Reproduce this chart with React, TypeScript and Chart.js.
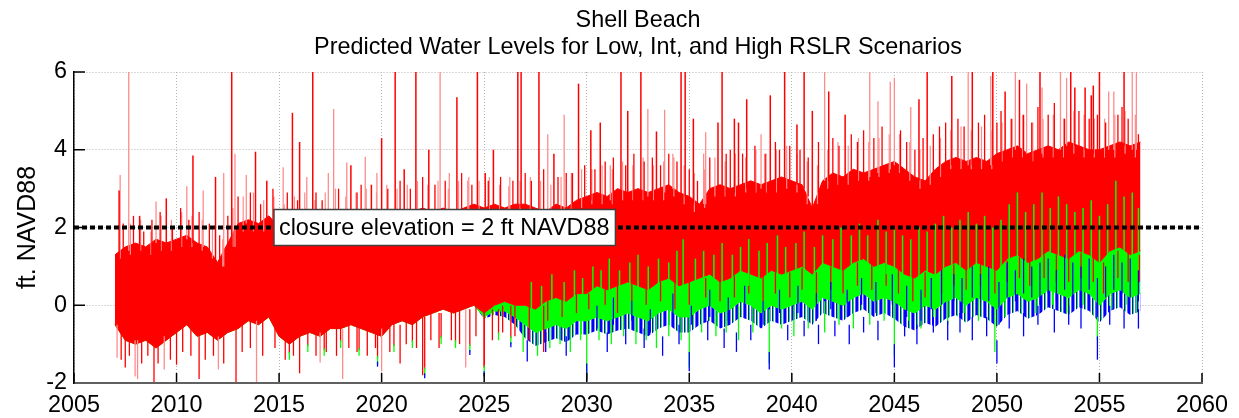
import React, { useEffect, useRef } from 'react';
import { Chart, registerables } from 'chart.js';

Chart.register(...registerables);

// ---------- data ----------
const TITLE_LINE_1 = 'Shell Beach';
const TITLE_LINE_2 = 'Predicted Water Levels for Low, Int, and High RSLR Scenarios';
const Y_LABEL = 'ft. NAVD88';
const CLOSURE_LABEL = 'closure elevation = 2 ft NAVD88';
const CLOSURE_LEVEL = 2;
const CLOSURE_LABEL_YEAR = 2014.75;

const X_TICKS = [2005, 2010, 2015, 2020, 2025, 2030, 2035, 2040, 2045, 2050, 2055, 2060];
const Y_TICKS = [-2, 0, 2, 4, 6];

// envelopes sampled every half year from 2007.0 to 2057.0
const START_YEAR = 2007;
const STEP = 0.5;

// High RSLR (red): top and bottom of the solid mass
const RED_HIGH = [
  1.3, 1.5, 1.6, 1.5, 1.7, 1.6, 1.7, 1.8, 1.6, 1.5,
  1.1, 1.6, 2.1, 2.2, 2.1, 2.3, 2.0, 2.1, 2.2, 2.1,
  2.2, 2.3, 2.1, 2.2, 2.3, 2.2, 2.3, 2.4, 2.3, 2.4,
  2.5, 2.4, 2.5, 2.4, 2.5, 2.6, 2.5, 2.6, 2.5, 2.6,
  2.6, 2.5, 2.4, 2.6, 2.5, 2.7, 2.8, 2.9, 2.8, 3.0,
  2.9, 3.0, 2.9, 3.0, 3.1, 2.9, 2.8, 2.6, 3.0, 3.1,
  3.0, 3.1, 3.2, 3.1, 3.2, 3.3, 3.2, 3.1, 2.5, 3.2,
  3.4, 3.3, 3.5, 3.4, 3.5, 3.6, 3.7, 3.5, 3.3, 3.2,
  3.5, 3.7, 3.8, 3.7, 3.8, 3.7, 3.9, 4.0, 4.1, 3.9,
  4.0, 4.1, 4.0, 4.2, 4.1, 4.0, 4.0, 4.1, 4.2, 4.1,
  4.2,
];

const RED_LOW = [
  -0.5, -0.9, -1.0, -0.9, -1.1, -0.9, -0.7, -0.5, -0.8, -0.7,
  -0.9, -0.7, -0.6, -0.4, -0.5, -0.3, -0.8, -1.0, -0.8, -0.7,
  -0.8, -0.6, -0.6, -0.5, -0.6, -0.7, -0.8, -0.5, -0.4, -0.5,
  -0.3, -0.2, -0.1, -0.2, -0.1, 0.0, -0.2, 0.0, 0.1, 0.0,
  0.0, -0.1, 0.1, 0.2, 0.1, 0.3, 0.3, 0.5, 0.4, 0.5,
  0.6, 0.5, 0.4, 0.6, 0.7, 0.5, 0.6, 0.7, 0.8, 0.6,
  0.7, 0.9, 0.8, 0.7, 0.9, 0.8, 0.9, 1.0, 0.8, 1.1,
  1.0, 0.9, 1.1, 1.2, 1.0, 1.1, 1.0, 0.8, 0.7, 0.9,
  0.8, 1.0, 1.1, 0.9, 1.1, 1.0, 0.9, 1.2, 1.3, 1.1,
  1.2, 1.4, 1.3, 1.2, 1.4, 1.3, 1.1, 1.4, 1.5, 1.3,
  1.4,
];

// Int RSLR (green): lower edge of the green zone under the red mass
const GREEN_LOW = [
  -0.5, -0.9, -1.0, -0.9, -1.1, -0.9, -0.7, -0.5, -0.8, -0.7,
  -0.9, -0.7, -0.6, -0.4, -0.5, -0.3, -0.8, -1.0, -0.8, -0.7,
  -0.8, -0.6, -0.6, -0.5, -0.6, -0.7, -0.8, -0.5, -0.4, -0.5,
  -0.3, -0.2, -0.1, -0.2, -0.1, 0.0, -0.3, -0.15, -0.15, -0.3,
  -0.5, -0.7, -0.6, -0.5, -0.6, -0.4, -0.4, -0.3, -0.4, -0.3,
  -0.2, -0.3, -0.4, -0.2, -0.1, -0.3, -0.3, -0.1, 0.0, -0.2,
  -0.1, 0.1, 0.0, -0.2, 0.0, -0.1, 0.0, 0.1, -0.1, 0.2,
  0.1, 0.0, 0.2, 0.3, 0.1, 0.2, 0.1, -0.1, -0.2, 0.0,
  -0.1, 0.1, 0.2, 0.0, 0.2, 0.1, -0.1, 0.2, 0.3, 0.1,
  0.2, 0.4, 0.3, 0.2, 0.4, 0.3, 0.0, 0.3, 0.4, 0.2,
  0.3,
];

// Low RSLR (blue): lower edge of the blue zone under the green
const BLUE_LOW = [
  -0.5, -0.9, -1.0, -0.9, -1.1, -0.9, -0.7, -0.5, -0.8, -0.7,
  -0.9, -0.7, -0.6, -0.4, -0.5, -0.3, -0.8, -1.0, -0.8, -0.7,
  -0.8, -0.6, -0.6, -0.5, -0.6, -0.7, -0.8, -0.5, -0.4, -0.5,
  -0.3, -0.2, -0.1, -0.2, -0.1, 0.0, -0.35, -0.25, -0.3, -0.5,
  -0.85, -1.05, -0.95, -0.85, -0.95, -0.75, -0.75, -0.65, -0.75, -0.65,
  -0.6, -0.7, -0.8, -0.6, -0.5, -0.7, -0.7, -0.5, -0.4, -0.6,
  -0.5, -0.3, -0.4, -0.6, -0.4, -0.5, -0.4, -0.3, -0.5, -0.2,
  -0.3, -0.4, -0.2, -0.1, -0.3, -0.2, -0.35, -0.55, -0.65, -0.45,
  -0.55, -0.35, -0.25, -0.45, -0.25, -0.35, -0.55, -0.25, -0.15, -0.35,
  -0.25, -0.05, -0.15, -0.25, -0.05, -0.15, -0.45, -0.15, -0.05, -0.25,
  -0.15,
];

// individual spikes: [year, low, high]
const RED_SPIKES_UP = [
  [2007.2, 1.2, 2.95], [2008.2, 1.4, 2.3], [2009.5, 1.5, 2.75], [2010.8, 1.6, 3.85],
  [2011.9, 1.0, 3.3], [2012.69, 1.4, 6.0], [2013.85, 2.0, 3.95], [2014.4, 2.1, 3.2],
  [2015.65, 1.9, 4.95], [2016.0, 2.0, 4.2], [2016.64, 2.0, 6.0], [2018.5, 2.0, 3.6],
  [2019.5, 2.1, 3.1], [2020.0, 2.1, 4.3], [2020.66, 2.2, 6.0], [2021.1, 2.1, 3.5],
  [2021.67, 2.2, 6.0], [2022.3, 2.3, 4.0], [2023.67, 2.3, 5.35], [2024.67, 2.4, 6.0],
  [2025.05, 2.4, 3.4], [2025.45, 2.5, 4.0], [2026.64, 2.4, 6.0], [2026.8, 2.5, 6.0],
  [2027.67, 2.4, 6.0], [2028.4, 2.4, 3.9], [2029.3, 2.4, 3.4], [2029.6, 2.5, 5.7],
  [2030.2, 2.7, 4.5], [2030.66, 2.8, 4.7], [2031.67, 2.9, 6.0], [2032.0, 2.8, 5.0],
  [2032.64, 2.9, 6.0], [2033.4, 2.8, 4.47], [2034.6, 2.8, 6.0], [2034.8, 2.8, 6.0],
  [2035.2, 2.6, 4.8], [2036.4, 3.0, 4.7], [2036.6, 3.0, 6.0], [2037.2, 2.9, 4.8],
  [2037.4, 3.0, 4.7], [2037.8, 3.0, 5.3], [2038.95, 3.1, 5.4], [2039.65, 3.2, 6.0],
  [2040.25, 3.1, 4.65], [2040.6, 3.0, 6.0], [2041.0, 2.4, 5.0], [2041.8, 3.2, 5.5],
  [2042.6, 3.2, 4.9], [2046.2, 3.2, 5.3], [2046.6, 3.1, 6.0], [2047.8, 3.6, 5.9],
  [2048.8, 3.6, 6.0], [2049.8, 3.6, 6.0], [2050.4, 3.9, 5.5], [2051.1, 4.0, 5.8],
  [2052.1, 3.9, 6.0], [2053.6, 4.1, 6.0], [2053.8, 4.1, 5.6], [2054.3, 4.0, 5.6],
  [2054.6, 3.9, 5.4], [2054.7, 3.9, 5.65], [2055.0, 3.9, 6.0], [2056.2, 4.1, 6.0],
];

const PINK_SPIKES_UP = [
  [2007.25, 1.2, 3.35], [2007.67, 1.4, 6.0], [2009.0, 1.6, 2.67], [2010.5, 1.7, 3.06],
  [2011.3, 1.5, 2.95], [2012.3, 1.0, 3.4], [2012.85, 1.5, 3.9], [2013.4, 2.1, 3.35],
  [2015.2, 1.9, 3.55], [2016.35, 2.0, 3.3], [2017.4, 2.1, 3.4], [2017.66, 2.2, 5.05],
  [2018.3, 2.0, 3.67], [2019.2, 2.2, 3.82], [2019.77, 2.1, 3.4], [2022.85, 2.3, 6.0],
  [2023.3, 2.4, 3.4], [2024.2, 2.4, 3.2], [2026.2, 2.4, 3.06], [2028.1, 2.3, 4.4],
  [2028.9, 2.4, 4.9], [2031.15, 2.7, 3.6], [2032.98, 2.8, 5.05], [2033.8, 2.9, 5.03],
  [2034.2, 3.0, 3.9], [2035.7, 2.6, 3.9], [2035.8, 2.6, 4.45], [2038.5, 3.0, 4.4],
  [2041.6, 3.2, 6.0], [2043.8, 3.3, 6.0], [2044.2, 3.4, 5.25], [2044.8, 3.5, 5.75],
  [2045.0, 3.6, 5.85], [2045.8, 3.4, 5.1], [2048.6, 3.6, 6.0], [2049.7, 3.6, 5.9],
  [2050.9, 4.0, 6.0], [2051.45, 3.9, 5.7], [2052.2, 3.9, 5.6], [2053.1, 4.0, 6.0],
  [2053.4, 4.1, 5.85], [2055.45, 4.0, 5.5], [2055.7, 4.0, 5.5], [2056.6, 4.0, 6.0],
  [2056.8, 4.0, 6.0],
];

const PINK_GRASS_UP = [
  [2007.75, 1.3, 2.1], [2008.25, 1.4, 2.2], [2008.75, 1.3, 1.9], [2009.25, 1.4, 2.3],
  [2009.75, 1.4, 2.2], [2010.25, 1.5, 2.4], [2010.75, 1.5, 2.3], [2011.25, 1.4, 2.2],
  [2011.75, 1.2, 2.0], [2012.25, 1.0, 1.7], [2012.75, 1.5, 2.5], [2013.25, 1.9, 2.8],
  [2013.75, 1.9, 2.9], [2014.25, 1.9, 2.7], [2014.75, 1.9, 2.8], [2015.25, 1.8, 2.6],
  [2015.75, 1.9, 2.8], [2016.25, 1.9, 2.9], [2016.75, 1.9, 2.7], [2017.25, 2.0, 2.9],
  [2017.75, 2.0, 3.0], [2018.25, 1.9, 2.8], [2018.75, 2.0, 2.9], [2019.25, 2.0, 3.0],
  [2019.75, 2.0, 2.9], [2020.25, 2.1, 3.1], [2020.75, 2.1, 3.0], [2021.25, 2.1, 3.1],
  [2021.75, 2.2, 3.2], [2022.25, 2.2, 3.1], [2022.75, 2.2, 3.2], [2023.25, 2.2, 3.0],
  [2023.75, 2.2, 3.2], [2024.25, 2.3, 3.3], [2024.75, 2.3, 3.2], [2025.25, 2.3, 3.3],
  [2025.75, 2.3, 3.1], [2026.25, 2.3, 3.3], [2026.75, 2.3, 3.2], [2027.25, 2.3, 3.3],
  [2027.75, 2.2, 3.2], [2028.25, 2.2, 3.1], [2028.75, 2.3, 3.3], [2029.25, 2.4, 3.4],
  [2029.75, 2.5, 3.5], [2030.25, 2.6, 3.5], [2030.75, 2.6, 3.6], [2031.25, 2.6, 3.5],
  [2031.75, 2.7, 3.7], [2032.25, 2.7, 3.6], [2032.75, 2.7, 3.8], [2033.25, 2.7, 3.6],
  [2033.75, 2.7, 3.7], [2034.25, 2.8, 3.8], [2034.75, 2.6, 3.6], [2035.25, 2.4, 3.4],
  [2035.75, 2.5, 3.5], [2036.25, 2.8, 3.8], [2036.75, 2.8, 3.7], [2037.25, 2.8, 3.9],
  [2037.75, 2.9, 3.8], [2038.25, 2.9, 4.0], [2038.75, 2.9, 3.9], [2039.25, 2.9, 4.0],
  [2039.75, 3.0, 4.1], [2040.25, 2.9, 3.9], [2040.75, 2.6, 3.7], [2041.25, 2.6, 3.6],
  [2041.75, 3.0, 4.0], [2042.25, 3.1, 4.2], [2042.75, 3.1, 4.1], [2043.25, 3.2, 4.3],
  [2043.75, 3.2, 4.2], [2044.25, 3.3, 4.3], [2044.75, 3.4, 4.4], [2045.25, 3.4, 4.4],
  [2045.75, 3.2, 4.2], [2046.25, 3.0, 4.0], [2046.75, 3.1, 4.1], [2047.25, 3.3, 4.3],
  [2047.75, 3.5, 4.5], [2048.25, 3.5, 4.6], [2048.75, 3.5, 4.5], [2049.25, 3.5, 4.6],
  [2049.75, 3.5, 4.5], [2050.25, 3.7, 4.7], [2050.75, 3.8, 4.8], [2051.25, 3.8, 4.9],
  [2051.75, 3.7, 4.7], [2052.25, 3.8, 4.8], [2052.75, 3.8, 4.9], [2053.25, 3.8, 4.8],
  [2053.75, 3.9, 5.0], [2054.25, 3.8, 4.9], [2054.75, 3.8, 4.8], [2055.25, 3.8, 4.8],
  [2055.75, 3.8, 4.9], [2056.25, 3.9, 5.0], [2056.75, 3.8, 4.9],
];

const RED_GRASS_UP = [
  [2007.4, 1.2, 2.1], [2007.9, 1.3, 2.3], [2008.4, 1.3, 1.9], [2008.8, 1.3, 2.2],
  [2009.2, 1.4, 2.4], [2009.8, 1.4, 2.0], [2010.2, 1.5, 2.5], [2010.6, 1.5, 2.2],
  [2011.1, 1.4, 2.4], [2011.6, 1.3, 2.1], [2012.1, 0.9, 1.8], [2012.5, 1.3, 2.3],
  [2013.0, 1.8, 2.8], [2013.6, 1.9, 2.9], [2014.1, 1.8, 2.6], [2014.7, 1.9, 3.0],
  [2015.4, 1.8, 2.9], [2015.9, 1.9, 2.7], [2016.8, 1.9, 2.9], [2017.1, 1.9, 2.7],
  [2017.9, 1.9, 3.0], [2018.8, 1.9, 2.9], [2019.0, 2.0, 3.1], [2020.3, 2.1, 3.0],
  [2020.9, 2.1, 3.2], [2021.4, 2.1, 3.0], [2022.0, 2.2, 3.3], [2022.6, 2.1, 3.1],
  [2023.1, 2.2, 3.2], [2023.9, 2.2, 3.4], [2024.4, 2.2, 3.1], [2025.2, 2.2, 3.2],
  [2025.8, 2.3, 3.3], [2026.4, 2.2, 3.2], [2027.0, 2.3, 3.4], [2027.3, 2.3, 3.2],
  [2027.9, 2.2, 3.5], [2028.6, 2.3, 3.3], [2029.0, 2.2, 3.4], [2029.9, 2.5, 3.6],
  [2030.4, 2.6, 3.5], [2030.9, 2.5, 3.7], [2031.3, 2.6, 3.8], [2031.9, 2.6, 3.6],
  [2032.3, 2.6, 3.9], [2032.8, 2.7, 3.7], [2033.2, 2.6, 3.8], [2033.6, 2.7, 3.6],
  [2034.0, 2.8, 3.9], [2034.4, 2.7, 3.7], [2035.0, 2.5, 3.5], [2035.4, 2.3, 3.2],
  [2036.0, 2.7, 3.8], [2036.8, 2.8, 3.9], [2037.0, 2.7, 4.0], [2037.6, 2.8, 3.9],
  [2038.2, 2.9, 4.1], [2038.7, 2.8, 3.9], [2039.2, 2.9, 4.2], [2039.4, 3.0, 4.0],
  [2039.9, 2.9, 4.1], [2040.4, 2.9, 4.0], [2040.8, 2.8, 3.8], [2041.3, 2.9, 4.2],
  [2042.0, 3.1, 4.3], [2042.3, 3.0, 4.1], [2042.9, 3.2, 4.4], [2043.2, 3.1, 4.2],
  [2043.5, 3.1, 4.5], [2044.0, 3.2, 4.3], [2044.4, 3.3, 4.6], [2045.3, 3.3, 4.5],
  [2045.6, 3.2, 4.2], [2046.0, 3.0, 4.0], [2046.4, 2.9, 4.3], [2046.9, 3.2, 4.4],
  [2047.2, 3.2, 4.6], [2047.5, 3.4, 4.7], [2048.1, 3.5, 4.8], [2048.4, 3.4, 4.6],
  [2049.1, 3.5, 4.7], [2049.4, 3.4, 4.9], [2050.0, 3.6, 4.7], [2050.2, 3.7, 5.0],
  [2050.7, 3.7, 4.8], [2051.3, 3.7, 4.9], [2051.7, 3.6, 4.7], [2052.0, 3.7, 5.1],
  [2052.5, 3.8, 4.9], [2052.8, 3.7, 5.2], [2053.3, 3.7, 4.8], [2054.0, 3.8, 5.0],
  [2054.5, 3.7, 4.8], [2054.9, 3.7, 4.9], [2055.3, 3.8, 4.7], [2055.9, 3.8, 4.9],
  [2056.1, 3.9, 5.1], [2056.4, 3.8, 4.8], [2056.9, 3.9, 4.4],
];

const RED_SPIKES_DOWN = [
  [2007.5, -1.6, -0.8], [2008.9, -2.0, -0.9], [2010.0, -1.53, -0.6], [2011.1, -1.9, -0.7],
  [2012.9, -2.0, -0.6], [2016.0, -1.75, -0.7], [2020.9, -1.5, -0.5], [2022.0, -1.8, -0.3],
  [2025.0, -1.6, -0.2], [2027.9, -1.2, 0.0],
];

const PINK_SPIKES_DOWN = [
  [2007.1, -1.35, -0.5], [2007.98, -1.83, -0.9], [2008.1, -1.9, -0.9], [2009.4, -1.65, -0.8],
  [2012.04, -1.65, -0.8], [2013.9, -2.0, -0.4], [2017.0, -1.47, -0.7], [2018.1, -1.9, -0.6],
  [2020.0, -1.7, -0.6], [2024.1, -1.6, -0.1],
];

const RED_GRASS_DOWN = [
  [2007.3, -1.4, -0.6], [2007.7, -1.3, -0.8], [2008.3, -1.5, -0.9], [2008.6, -1.3, -0.8],
  [2009.1, -1.5, -0.9], [2009.7, -1.4, -0.8], [2010.3, -1.2, -0.5], [2010.7, -1.3, -0.5],
  [2011.4, -1.4, -0.6], [2011.8, -1.3, -0.7], [2012.3, -1.5, -0.8], [2013.2, -1.2, -0.5],
  [2013.6, -1.1, -0.4], [2014.2, -1.3, -0.4], [2014.8, -1.1, -0.4], [2015.3, -1.4, -0.7],
  [2015.5, -1.25, -0.8], [2015.7, -1.3, -0.8], [2016.4, -1.05, -0.7], [2016.8, -1.3, -0.6],
  [2017.2, -1.15, -0.6], [2017.3, -1.2, -0.6], [2017.8, -1.3, -0.5], [2018.0, -0.95, -0.5],
  [2018.4, -1.1, -0.5], [2018.8, -1.2, -0.5], [2018.9, -1.15, -0.5], [2019.3, -1.3, -0.6],
  [2019.7, -1.1, -0.6], [2019.8, -1.35, -0.6], [2020.4, -1.2, -0.5], [2020.6, -1.05, -0.4],
  [2021.2, -1.0, -0.4], [2021.5, -0.95, -0.4], [2021.7, -1.1, -0.4], [2022.1, -1.65, -0.3],
  [2022.4, -0.9, -0.2], [2022.8, -1.1, -0.2], [2022.9, -0.85, -0.2], [2023.4, -0.9, -0.1],
  [2023.6, -0.95, -0.1], [2023.8, -1.0, -0.1], [2024.3, -1.05, -0.1], [2024.6, -0.8, 0.0],
  [2025.0, -1.6, -0.2], [2025.4, -0.9, -0.1], [2025.7, -0.75, -0.1], [2025.9, -0.7, 0.0],
  [2026.3, -0.85, 0.0], [2026.5, -0.8, 0.0], [2027.2, -0.9, 0.0],
];

// red streaks reaching down into the green zone
const RED_STREAKS_DOWN = [
  [2028.1, -0.4, 0.1], [2028.8, -0.3, 0.15], [2029.5, -0.2, 0.3], [2030.1, -0.1, 0.3],
  [2030.9, 0.0, 0.45], [2031.5, -0.2, 0.5], [2032.2, 0.1, 0.55], [2032.9, 0.0, 0.45],
  [2033.6, 0.1, 0.6], [2034.3, -0.1, 0.6], [2035.0, 0.0, 0.6], [2035.8, 0.2, 0.7],
  [2036.5, 0.1, 0.65], [2037.2, 0.2, 0.75], [2037.9, 0.3, 0.85], [2038.6, 0.1, 0.75],
  [2039.2, 0.3, 0.85], [2039.9, 0.2, 0.85], [2040.5, 0.4, 0.95], [2041.2, 0.1, 0.85],
  [2041.9, 0.4, 1.0], [2042.5, 0.3, 0.9], [2043.2, 0.5, 1.1], [2043.9, 0.4, 1.1],
  [2044.6, 0.5, 1.1], [2045.2, 0.3, 0.95], [2045.9, 0.1, 0.75], [2046.5, 0.2, 0.85],
  [2047.3, 0.3, 0.95], [2047.9, 0.5, 1.05], [2048.5, 0.4, 0.95], [2049.2, 0.5, 1.05],
  [2049.9, 0.3, 0.95], [2050.5, 0.6, 1.15], [2051.1, 0.7, 1.25], [2051.6, 0.5, 1.15],
  [2052.3, 0.7, 1.3], [2052.9, 0.6, 1.3], [2053.5, 0.6, 1.25], [2054.1, 0.7, 1.35],
  [2054.7, 0.6, 1.3], [2055.2, 0.3, 1.1], [2055.9, 0.7, 1.4], [2056.4, 0.6, 1.35],
  [2056.95, 0.6, 1.3],
];

const GREEN_SPIKES_UP = [
  [2027.3, -0.2, 0.6], [2027.8, -0.3, 0.5], [2028.3, -0.1, 0.8], [2028.9, 0.0, 0.6],
  [2029.4, 0.0, 0.9], [2029.8, 0.1, 0.7], [2030.3, 0.2, 1.0], [2030.7, 0.3, 0.9],
  [2031.1, 0.2, 1.2], [2031.6, 0.3, 0.9], [2032.1, 0.3, 1.1], [2032.5, 0.3, 1.3],
  [2033.0, 0.2, 1.0], [2033.5, 0.4, 1.2], [2034.0, 0.4, 1.1], [2034.4, 0.3, 1.4],
  [2034.7, 0.3, 1.7], [2035.3, 0.3, 1.2], [2035.7, 0.4, 1.4], [2036.2, 0.5, 1.3],
  [2036.6, 0.4, 1.6], [2037.1, 0.4, 1.3], [2037.5, 0.6, 1.5], [2037.9, 0.5, 1.7],
  [2038.4, 0.5, 1.4], [2038.8, 0.5, 1.6], [2039.3, 0.6, 1.8], [2039.7, 0.6, 1.5],
  [2040.2, 0.6, 1.6], [2040.6, 0.7, 1.9], [2041.1, 0.5, 1.5], [2041.5, 0.8, 1.8],
  [2042.0, 0.7, 1.7], [2042.4, 0.6, 2.0], [2042.9, 0.8, 1.8], [2043.3, 0.9, 2.1],
  [2043.7, 0.9, 1.8], [2044.2, 0.8, 2.2], [2044.6, 0.8, 1.9], [2045.0, 0.9, 2.0],
  [2045.4, 0.8, 1.8], [2045.8, 0.7, 1.7], [2046.2, 0.6, 2.0], [2046.6, 0.8, 1.9],
  [2047.0, 0.7, 2.1], [2047.4, 0.9, 2.3], [2047.8, 1.0, 2.0], [2048.2, 1.0, 2.2],
  [2048.6, 0.9, 2.4], [2049.0, 1.0, 2.1], [2049.4, 1.0, 2.3], [2049.8, 0.9, 2.0],
  [2050.2, 0.9, 2.2], [2050.6, 1.1, 2.6], [2051.0, 1.2, 2.9], [2051.4, 1.1, 2.4],
  [2051.8, 1.1, 2.6], [2052.2, 1.2, 2.9], [2052.6, 1.3, 2.5], [2053.0, 1.2, 2.8],
  [2053.4, 1.1, 2.6], [2053.8, 1.3, 2.4], [2054.2, 1.3, 2.5], [2054.6, 1.2, 2.7],
  [2055.0, 1.0, 2.3], [2055.4, 1.2, 2.6], [2055.8, 1.3, 3.2], [2056.2, 1.4, 2.8],
  [2056.6, 1.2, 2.9], [2056.9, 1.3, 2.5],
];

const GREEN_TIPS_DOWN = [
  [2015.5, -1.4, -1.2], [2016.4, -1.2, -1.0], [2017.2, -1.3, -1.1], [2018.0, -1.1, -0.9],
  [2018.9, -1.3, -1.1], [2019.8, -1.5, -1.3], [2020.6, -1.2, -1.0], [2021.5, -1.1, -0.9],
  [2022.1, -1.8, -1.6], [2022.9, -1.0, -0.8], [2023.6, -1.1, -0.9], [2024.3, -1.2, -1.0],
  [2025.0, -1.75, -1.55], [2025.7, -0.9, -0.7], [2026.3, -1.0, -0.8], [2026.9, -1.2, -0.4],
  [2027.6, -1.3, -0.6], [2028.2, -1.1, -0.5], [2028.7, -1.0, -0.4], [2029.2, -1.2, -0.5],
  [2029.7, -0.9, -0.3], [2030.0, -1.9, -0.4], [2030.6, -0.9, -0.3], [2031.2, -1.0, -0.3],
  [2031.8, -0.8, -0.2], [2032.4, -1.0, -0.2], [2032.9, -0.9, -0.3], [2033.4, -1.1, -0.2],
  [2034.0, -0.8, -0.1], [2034.6, -0.9, -0.2], [2035.0, -1.6, -0.2], [2035.6, -0.7, 0.0],
  [2036.3, -0.8, -0.1], [2036.8, -0.7, 0.0], [2037.4, -0.9, 0.0], [2038.1, -0.7, 0.0],
  [2038.9, -1.5, -0.1], [2039.5, -0.6, 0.0], [2040.1, -0.8, 0.0], [2040.8, -0.6, 0.1],
  [2041.6, -0.7, 0.1], [2042.3, -0.5, 0.1], [2043.0, -0.6, 0.2], [2043.8, -0.5, 0.2],
  [2044.5, -0.4, 0.2], [2045.0, -1.3, 0.2], [2045.7, -0.4, 0.1], [2046.3, -0.6, 0.0],
  [2047.0, -0.3, 0.1], [2047.6, -0.5, 0.3], [2048.4, -0.2, 0.3], [2049.1, -0.4, 0.3],
  [2049.9, -1.2, 0.2], [2050.4, -0.3, 0.3], [2051.2, -0.1, 0.4], [2051.9, -0.2, 0.4],
  [2052.7, 0.0, 0.5], [2053.4, -0.2, 0.4], [2054.2, 0.0, 0.5], [2054.9, -0.9, 0.3],
  [2055.6, -0.1, 0.5], [2056.3, 0.0, 0.5], [2056.8, -0.2, 0.4],
];

const BLUE_TIPS_DOWN = [
  [2019.8, -1.58, -1.45], [2022.1, -1.88, -1.75], [2024.3, -1.28, -1.15], [2025.0, -1.83, -1.7],
  [2026.3, -1.08, -0.95],
  [2027.1, -1.45, -0.9], [2028.0, -1.2, -0.7], [2029.0, -1.3, -0.8], [2030.0, -1.95, -1.5],
  [2031.0, -1.2, -0.7], [2031.9, -1.0, -0.6], [2032.8, -1.1, -0.6], [2033.7, -1.3, -0.8],
  [2034.5, -1.0, -0.5], [2035.0, -1.7, -1.2], [2035.9, -0.9, -0.4], [2036.7, -1.1, -0.6],
  [2037.3, -1.2, -0.7], [2038.0, -0.9, -0.5], [2038.9, -1.65, -1.2], [2039.8, -0.9, -0.5],
  [2040.6, -0.8, -0.4], [2041.3, -1.0, -0.5], [2042.1, -0.8, -0.4], [2042.8, -1.0, -0.5],
  [2043.5, -0.7, -0.3], [2044.2, -0.9, -0.4], [2045.0, -1.6, -1.0], [2045.5, -0.8, -0.3],
  [2046.1, -1.0, -0.5], [2046.9, -0.7, -0.3], [2047.6, -0.9, -0.4], [2048.2, -0.7, -0.2],
  [2048.8, -0.9, -0.3], [2049.5, -0.8, -0.3], [2050.0, -1.5, -0.9], [2050.6, -0.6, -0.1],
  [2051.3, -0.8, -0.2], [2052.0, -0.5, 0.0], [2052.8, -0.7, -0.1], [2053.5, -0.5, 0.0],
  [2054.1, -0.6, 0.0], [2054.9, -1.4, -0.8], [2055.5, -0.5, 0.0], [2056.2, -0.6, -0.1],
  [2056.9, -0.6, -0.1],
];

const BLUE_STREAKS = [
  [2030.5, -0.6, 0.0], [2031.3, -0.5, 0.2], [2032.2, -0.4, 0.1], [2033.1, -0.7, -0.1],
  [2034.2, -0.3, 0.3], [2035.1, -0.5, 0.0], [2036.0, -0.3, 0.4], [2036.9, -0.4, 0.2],
  [2037.7, -0.2, 0.5], [2038.6, -0.5, 0.1], [2039.4, -0.2, 0.4], [2040.3, -0.2, 0.5],
  [2041.2, -0.4, 0.3], [2041.9, -0.1, 0.6], [2042.7, -0.3, 0.4], [2043.4, 0.0, 0.7],
  [2044.1, -0.2, 0.6], [2044.9, 0.0, 0.8], [2045.6, -0.3, 0.5], [2046.3, -0.4, 0.4],
  [2046.8, -0.1, 0.7], [2047.3, 0.0, 0.9], [2047.9, 0.1, 0.8], [2048.3, -0.2, 0.7],
  [2048.8, 0.2, 1.0], [2049.2, 0.0, 0.8], [2049.6, 0.1, 1.0], [2050.1, -0.5, 0.6],
  [2050.5, 0.2, 1.1], [2050.9, 0.1, 0.9], [2051.3, 0.3, 1.2], [2051.7, 0.2, 1.0],
  [2052.1, 0.0, 1.1], [2052.5, 0.3, 1.2], [2052.9, 0.1, 0.9], [2053.3, 0.4, 1.3],
  [2053.7, 0.2, 1.1], [2054.1, 0.3, 1.0], [2054.5, 0.4, 1.2], [2054.9, -0.3, 0.7],
  [2055.3, 0.2, 1.0], [2055.7, 0.4, 1.3], [2056.1, 0.3, 1.1], [2056.5, 0.2, 1.2],
  [2056.9, 0.1, 0.9],
];

// ---------- helpers ----------
const FONT = '"Liberation Sans", Arial, Helvetica, sans-serif';
const FONT_SIZE = 23.4;
const RED = '#ff0000';
const PINK = '#ff8c8c';
const GREEN = '#00ff00';
const BLUE = '#0000ff';

const envelope = (vals: number[]) => vals.map((y, i) => ({ x: START_YEAR + i * STEP, y }));
const spikes = (arr: number[][]) => arr.map(([x, lo, hi]) => ({ x, y: [lo, hi] }));

const stripes = (cols: string[]) => {
  const c = document.createElement('canvas');
  c.width = cols.length;
  c.height = 1;
  const g = c.getContext('2d')!;
  cols.forEach((col, i) => {
    g.fillStyle = col;
    g.fillRect(i, 0, 1, 1);
  });
  return g.createPattern(c, 'repeat');
};

const band = (vals: number[], stroke: string, fillStyle: any, fill: number | false, width: number, order: number) => ({
  type: 'line' as const,
  data: envelope(vals),
  borderColor: stroke,
  backgroundColor: fillStyle,
  borderWidth: width,
  pointRadius: 0,
  tension: 0,
  fill,
  order,
});

const bar = (arr: number[][], color: string, thickness: number, order: number) => ({
  type: 'bar' as const,
  data: spikes(arr),
  backgroundColor: color,
  borderWidth: 0,
  inflateAmount: 0,
  barThickness: thickness,
  grouped: false,
  order,
});

const decorPlugin = {
  id: 'decor',
  afterDatasetsDraw(chart: any) {
    const { ctx, chartArea: ca, scales } = chart;
    const xs = scales.x;
    const ys = scales.y;
    ctx.save();
    // inward tick marks
    ctx.strokeStyle = '#000';
    ctx.lineWidth = 1.5;
    ctx.beginPath();
    X_TICKS.forEach((v) => {
      const px = xs.getPixelForValue(v);
      ctx.moveTo(px, ca.bottom);
      ctx.lineTo(px, ca.bottom - 10);
    });
    Y_TICKS.forEach((v) => {
      const py = ys.getPixelForValue(v);
      ctx.moveTo(ca.left, py);
      ctx.lineTo(ca.left + 11, py);
    });
    ctx.stroke();

    // closure label box
    ctx.font = `${FONT_SIZE}px ${FONT}`;
    const tw = ctx.measureText(CLOSURE_LABEL).width;
    const bx = xs.getPixelForValue(CLOSURE_LABEL_YEAR);
    const cy = ys.getPixelForValue(CLOSURE_LEVEL);
    const bw = tw + 11;
    const bh = 36;
    ctx.fillStyle = '#ffffff';
    ctx.fillRect(bx, cy - bh / 2, bw, bh);
    ctx.strokeStyle = '#404040';
    ctx.lineWidth = 1.5;
    ctx.strokeRect(bx, cy - bh / 2, bw, bh);
    ctx.fillStyle = '#000';
    ctx.textAlign = 'left';
    ctx.textBaseline = 'middle';
    ctx.fillText(CLOSURE_LABEL, bx + 5, cy + 1);
    ctx.restore();
  },
  afterDraw(chart: any) {
    const { ctx, chartArea: ca } = chart;
    ctx.save();
    ctx.fillStyle = '#000';
    ctx.font = `${FONT_SIZE}px ${FONT}`;
    ctx.textAlign = 'center';
    ctx.textBaseline = 'alphabetic';
    const cx = (ca.left + ca.right) / 2;
    ctx.fillText(TITLE_LINE_1, cx, 27);
    ctx.fillText(TITLE_LINE_2, cx, 54);
    ctx.font = `25px ${FONT}`;
    ctx.translate(28, (ca.top + ca.bottom) / 2);
    ctx.rotate(-Math.PI / 2);
    ctx.textBaseline = 'middle';
    ctx.fillText(Y_LABEL, 0, 0);
    ctx.restore();
  },
};

export default function App() {
  const ref = useRef<HTMLCanvasElement | null>(null);

  useEffect(() => {
    document.body.style.margin = '0';
    document.body.style.overflow = 'hidden';
    const canvas = ref.current;
    if (!canvas) return;

    const blueZone = stripes([BLUE, BLUE, '#8c8cff', '#ffffff', BLUE, GREEN, '#ffffff', '#6060ff']);

    const datasets: any[] = [
      band(RED_HIGH, RED, RED, 1, 1, 80), // 0 -> fills to red low
      band(RED_LOW, RED, RED, false, 1, 85), // 1
      band(GREEN_LOW, GREEN, GREEN, 1, 1, 90), // 2 -> fills up to red low
      band(BLUE_LOW, BLUE, blueZone, 2, 0, 100), // 3 -> fills up to green low
      bar(PINK_SPIKES_DOWN, PINK, 1.3, 70),
      bar(RED_GRASS_DOWN, RED, 1.3, 68),
      bar(RED_SPIKES_DOWN, RED, 1.3, 66),
      bar(RED_STREAKS_DOWN, RED, 1.3, 64),
      bar(GREEN_TIPS_DOWN, GREEN, 1.3, 62),
      bar(BLUE_TIPS_DOWN, BLUE, 1.3, 60),
      bar(PINK_GRASS_UP, PINK, 1.2, 52),
      bar(PINK_SPIKES_UP, PINK, 1.3, 50),
      bar(RED_GRASS_UP, RED, 1.3, 46),
      bar(RED_SPIKES_UP, RED, 1.5, 44),
      bar(GREEN_SPIKES_UP, GREEN, 1.5, 30),
      bar(BLUE_STREAKS, BLUE, 1.2, 20),
      {
        type: 'line',
        data: [
          { x: X_TICKS[0], y: CLOSURE_LEVEL },
          { x: X_TICKS[X_TICKS.length - 1], y: CLOSURE_LEVEL },
        ],
        borderColor: '#000',
        borderWidth: 4,
        borderDash: [5, 3],
        pointRadius: 0,
        fill: false,
        order: 5,
      },
    ];

    const chart = new Chart(canvas, {
      type: 'line',
      data: { datasets },
      options: {
        animation: false,
        responsive: false,
        devicePixelRatio: 1,
        events: [],
        layout: { padding: { top: 72, right: 37, left: 0, bottom: 0 } },
        plugins: {
          legend: { display: false },
          tooltip: { enabled: false },
          title: { display: false },
        },
        scales: {
          x: {
            type: 'linear',
            min: 2005,
            max: 2060,
            offset: false,
            afterFit: (s: any) => {
              s.height = 35;
            },
            afterBuildTicks: (s: any) => {
              s.ticks = X_TICKS.map((v) => ({ value: v }));
            },
            ticks: {
              autoSkip: false,
              maxRotation: 0,
              padding: 9,
              color: '#000',
              font: { family: FONT, size: FONT_SIZE },
              callback: (v: any) => String(v),
            },
            grid: { color: '#b4b4b4', lineWidth: 1, drawTicks: false, offset: false },
            border: { display: true, color: '#606060', width: 2, dash: [1, 2], z: 1 },
          },
          y: {
            type: 'linear',
            min: -2,
            max: 6,
            afterFit: (s: any) => {
              s.width = 74;
            },
            afterBuildTicks: (s: any) => {
              s.ticks = Y_TICKS.map((v) => ({ value: v }));
            },
            ticks: {
              padding: 7,
              color: '#000',
              font: { family: FONT, size: FONT_SIZE },
              callback: (v: any) => String(v),
            },
            grid: { color: '#b4b4b4', lineWidth: 1, drawTicks: false, offset: false },
            border: { display: true, color: '#000', width: 1.5, dash: [1, 2], z: 1 },
          },
        },
      } as any,
      plugins: [decorPlugin],
    });

    return () => chart.destroy();
  }, []);

  return (
    <div style={{ width: 1239, height: 418 }}>
      <canvas ref={ref} width={1239} height={418} style={{ display: 'block', width: 1239, height: 418 }} />
    </div>
  );
}
